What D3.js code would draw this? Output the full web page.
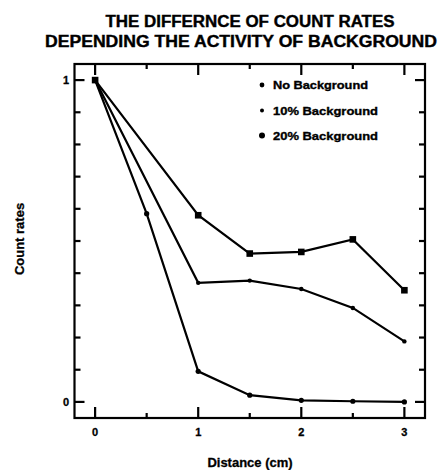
<!DOCTYPE html>
<html><head><meta charset="utf-8">
<script src="https://cdn.jsdelivr.net/npm/d3@7/dist/d3.min.js"></script>
<style>body{margin:0;background:#fff} svg{display:block}</style>
</head><body>
<script>
const titleLines = ["THE DIFFERNCE OF COUNT RATES", "DEPENDING THE ACTIVITY OF BACKGROUND"];
const xLabel = "Distance (cm)";
const yLabel = "Count rates";
const xTickLabels = [0, 1, 2, 3];
const yTickLabels = [0, 1];
const seriesNames = ["No Background", "10% Background", "20% Background"];
const noBgX = [0, 0.5, 1, 1.5, 2, 2.5, 3];
const noBgY = [1, 0.585, 0.095, 0.021, 0.005, 0.002, 0.0];
const bg10X = [0, 1, 1.5, 2, 2.5, 3];
const bg10Y = [1, 0.37, 0.377, 0.351, 0.292, 0.188];
const bg20X = [0, 1, 1.5, 2, 2.5, 3];
const bg20Y = [1, 0.58, 0.461, 0.466, 0.505, 0.347];

const W = 440, H = 470;
const svg = d3.select("body").append("svg").attr("width", W).attr("height", H);
const font = "'Liberation Sans', Arial, sans-serif";
const L = 74.5, R = 425, T = 64, B = 418;
const x = d3.scaleLinear().domain([-0.2, 3.2]).range([L, R]);
const y = d3.scaleLinear().domain([-0.05, 1.05]).range([B, T]);

// title
svg.selectAll("text.title").data(titleLines).enter().append("text")
  .attr("x", (d, i) => i === 0 ? 250 : 241)
  .attr("y", (d, i) => 27 + i * 20)
  .attr("text-anchor", "middle")
  .attr("font-family", font).attr("font-weight", "bold").attr("font-size", 16)
  .attr("stroke", "#000").attr("stroke-width", 0.4)
  .attr("textLength", (d, i) => i === 0 ? 289 : 392)
  .attr("lengthAdjust", "spacingAndGlyphs")
  .text(d => d);

// frame
svg.append("rect").attr("x", L).attr("y", T).attr("width", R - L).attr("height", B - T)
  .attr("fill", "none").attr("stroke", "#000").attr("stroke-width", 2.2);

// tick labels
svg.selectAll("text.xtl").data(xTickLabels).enter().append("text")
  .attr("x", d => x(d)).attr("y", 436).attr("text-anchor", "middle")
  .attr("font-family", font).attr("font-weight", "bold").attr("font-size", 11)
  .attr("stroke", "#000").attr("stroke-width", 0.3).text(d => d);
svg.selectAll("text.ytl").data(yTickLabels).enter().append("text")
  .attr("x", 66).attr("y", d => y(d) + 4).attr("text-anchor", "middle")
  .attr("font-family", font).attr("font-weight", "bold").attr("font-size", 11)
  .attr("stroke", "#000").attr("stroke-width", 0.3).text(d => d);

// axis labels
svg.append("text").attr("x", 250).attr("y", 467).attr("text-anchor", "middle")
  .attr("font-family", font).attr("font-weight", "bold").attr("font-size", 13)
  .attr("stroke", "#000").attr("stroke-width", 0.3).text(xLabel);
svg.append("text").attr("transform", "translate(24,239) rotate(-90)").attr("text-anchor", "middle")
  .attr("font-family", font).attr("font-weight", "bold").attr("font-size", 13)
  .attr("stroke", "#000").attr("stroke-width", 0.3).text(yLabel);

// series
const series = [
  {name: seriesNames[0], xs: noBgX, ys: noBgY, sym: "circle", r: 2.6},
  {name: seriesNames[1], xs: bg10X, ys: bg10Y, sym: "circle", r: 2.2},
  {name: seriesNames[2], xs: bg20X, ys: bg20Y, sym: "square", r: 3.3}
];
const line = d3.line().x(d => x(d[0])).y(d => y(d[1]));
series.forEach(s => {
  const pts = s.xs.map((v, i) => [v, s.ys[i]]);
  svg.append("path").attr("d", line(pts)).attr("fill", "none").attr("stroke", "#000").attr("stroke-width", 2.2);
  pts.forEach(p => {
    if (s.sym === "circle") {
      svg.append("circle").attr("cx", x(p[0])).attr("cy", y(p[1])).attr("r", s.r).attr("fill", "#000");
    } else {
      svg.append("rect").attr("x", x(p[0]) - s.r).attr("y", y(p[1]) - s.r)
        .attr("width", 2 * s.r).attr("height", 2 * s.r).attr("fill", "#000");
    }
  });
});

// legend
const legY = [85, 110.5, 135.5];
series.forEach((s, i) => {
  svg.append("circle").attr("cx", 262).attr("cy", legY[i])
    .attr("r", i === 0 ? 2.4 : (i === 1 ? 2 : 3)).attr("fill", "#000");
  svg.append("text").attr("x", 273).attr("y", legY[i] + 4)
    .attr("font-family", font).attr("font-weight", "bold").attr("font-size", 11)
    .attr("stroke", "#000").attr("stroke-width", 0.35)
    .attr("textLength", i === 0 ? 95 : 105).attr("lengthAdjust", "spacingAndGlyphs")
    .text(s.name);
});

// ticks (drawn last)
const yTicks = d3.range(0, 11).map(i => i / 10);
const xTicks = d3.range(0, 7).map(i => i / 2);
const tickSegs = [];
yTicks.forEach(v => {
  const len = (v === 0 || v === 1) ? 10 : 6;
  tickSegs.push([L, y(v), L + len, y(v)]);
  tickSegs.push([R, y(v), R - len, y(v)]);
});
xTicks.forEach(v => {
  const len = Number.isInteger(v) ? 11 : 5;
  tickSegs.push([x(v), B, x(v), B - len]);
  tickSegs.push([x(v), T, x(v), T + len]);
});
svg.append("g").selectAll("line").data(tickSegs).join("line")
  .attr("x1", d => d[0]).attr("y1", d => d[1]).attr("x2", d => d[2]).attr("y2", d => d[3])
  .style("stroke", "black").style("stroke-width", "2.2px");
</script>
</body></html>
